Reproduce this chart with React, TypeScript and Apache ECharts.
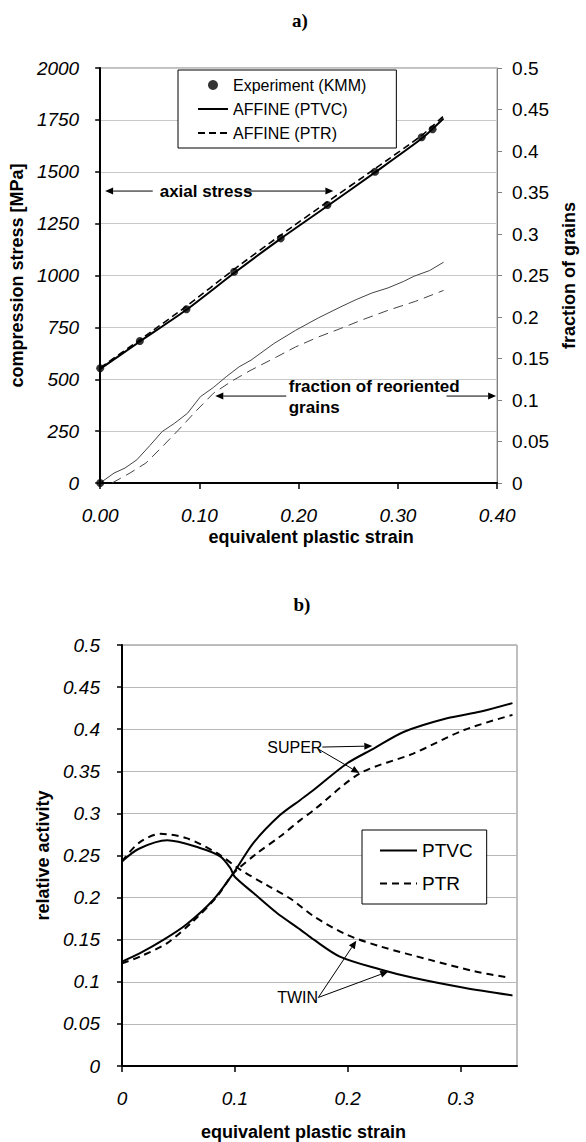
import React, { useEffect, useRef } from "react";
import * as echarts from "echarts";

// ---------- Chart a) data ----------
const expStrain = [0, 0, 0.04, 0.087, 0.135, 0.182, 0.229, 0.277, 0.324, 0.335];
const expStress = [0, 553, 684, 837, 1018, 1179, 1340, 1500, 1666, 1705];

const affStrain = [0, 0.04, 0.087, 0.135, 0.182, 0.229, 0.277, 0.324, 0.346];
const affPTVC = [550, 682, 835, 1012, 1178, 1335, 1497, 1660, 1757];
const affPTR = [555, 690, 852, 1030, 1195, 1355, 1515, 1675, 1768];

const fracStrainPTVC = [0, 0.014, 0.025, 0.037, 0.05, 0.0625, 0.075, 0.088, 0.101, 0.114, 0.127, 0.14, 0.152, 0.175, 0.197, 0.22, 0.242, 0.258, 0.274, 0.29, 0.306, 0.316, 0.332, 0.346];
const fracPTVC = [0, 0.012, 0.018, 0.028, 0.045, 0.062, 0.072, 0.084, 0.104, 0.115, 0.128, 0.14, 0.148, 0.168, 0.184, 0.199, 0.212, 0.221, 0.229, 0.235, 0.243, 0.249, 0.256, 0.266];
const fracStrainPTR = [0.012, 0.03, 0.046, 0.062, 0.079, 0.096, 0.114, 0.133, 0.152, 0.178, 0.197, 0.22, 0.242, 0.265, 0.29, 0.318, 0.346];
const fracPTR = [0, 0.012, 0.024, 0.043, 0.064, 0.086, 0.108, 0.123, 0.136, 0.152, 0.164, 0.176, 0.186, 0.197, 0.208, 0.219, 0.232];

// ---------- Chart b) data ----------
const superStrainPTVC = [0, 0.016, 0.037, 0.057, 0.081, 0.0997, 0.1165, 0.14, 0.158, 0.17, 0.199, 0.223, 0.25, 0.288, 0.318, 0.346];
const superPTVC = [0.124, 0.134, 0.15, 0.168, 0.1975, 0.231, 0.265, 0.298, 0.316, 0.328, 0.359, 0.377, 0.397, 0.413, 0.421, 0.431];
const superStrainPTR = [0, 0.016, 0.04, 0.063, 0.084, 0.099, 0.12, 0.14, 0.158, 0.17, 0.211, 0.258, 0.303, 0.346];
const superPTR = [0.122, 0.13, 0.146, 0.172, 0.201, 0.229, 0.253, 0.2725, 0.292, 0.304, 0.3476, 0.371, 0.399, 0.417];
const twinStrainPTVC = [0, 0.015, 0.04, 0.069, 0.087, 0.096, 0.0997, 0.1165, 0.137, 0.158, 0.17, 0.193, 0.229, 0.258, 0.303, 0.346];
const twinPTVC = [0.243, 0.258, 0.268, 0.259, 0.249, 0.235, 0.225, 0.2054, 0.182, 0.162, 0.15, 0.13, 0.1146, 0.1047, 0.0929, 0.0838];
const twinStrainPTR = [0, 0.015, 0.034, 0.057, 0.084, 0.105, 0.128, 0.15, 0.17, 0.199, 0.229, 0.273, 0.312, 0.344];
const twinPTR = [0.243, 0.265, 0.2757, 0.2706, 0.253, 0.233, 0.215, 0.198, 0.1777, 0.156, 0.142, 0.126, 0.1126, 0.1047];

const xTicksB = [0, 0.1, 0.2, 0.3];

const pairs = (xs: number[], ys: number[]) => xs.map((x, i) => [x, ys[i]]);

const SANS = "Arial, 'Liberation Sans', Helvetica, sans-serif";
const SERIF = "'Times New Roman', 'Liberation Serif', serif";

export default function App() {
  const ref = useRef<HTMLDivElement>(null);
  useEffect(() => {
    document.body.style.margin = "0";
    const chart = echarts.init(ref.current!, null, { renderer: "svg" });
    const italicLabel = { fontFamily: SANS, fontStyle: "italic", fontSize: 19, color: "#000" };
    const nameStyle = { fontFamily: SANS, fontWeight: "bold", fontSize: 18, color: "#000" };
    const hideSym = { opacity: 0 };
    const option: any = {
      animation: false,
      backgroundColor: "#fff",
      title: [
        { text: "a)", left: 295, top: 6, textAlign: "center", textStyle: { fontFamily: SERIF, fontWeight: "bold", fontSize: 19, color: "#000" } },
        { text: "b)", left: 297, top: 590, textAlign: "center", textStyle: { fontFamily: SERIF, fontWeight: "bold", fontSize: 19, color: "#000" } },
      ],
      grid: [
        { left: 95, top: 68, width: 417, height: 415, show: true, borderColor: "#808080", borderWidth: 1 },
        { left: 122, top: 645, width: 395, height: 422, show: true, borderColor: "#808080", borderWidth: 1 },
      ],
      legend: [
        {
          data: [
            { name: "Experiment (KMM)" },
            { name: "AFFINE (PTVC)", itemStyle: hideSym },
            { name: "AFFINE (PTR)", itemStyle: hideSym },
          ],
          orient: "vertical",
          left: 178,
          top: 70,
          itemWidth: 30,
          itemHeight: 10,
          itemGap: 8,
          padding: [7, 30, 7, 19],
          borderColor: "#000",
          borderWidth: 1,
          backgroundColor: "#fff",
          textStyle: { fontFamily: SANS, fontSize: 16, color: "#000" },
        },
        {
          data: [
            { name: "PTVC", itemStyle: hideSym },
            { name: "PTR", itemStyle: hideSym },
          ],
          orient: "vertical",
          left: 362,
          top: 830,
          itemWidth: 37,
          itemHeight: 18,
          itemGap: 14,
          padding: [11, 14, 11, 17],
          borderColor: "#000",
          borderWidth: 1,
          backgroundColor: "#fff",
          textStyle: { fontFamily: SANS, fontSize: 19, color: "#000" },
        },
      ],
      xAxis: [
        {
          type: "value", gridIndex: 0, min: 0, max: 0.4, interval: 0.1,
          name: "equivalent plastic strain", nameLocation: "middle", nameGap: 45,
          nameTextStyle: { ...nameStyle, padding: [0, 0, 0, 25] },
          axisLine: { lineStyle: { color: "#000", width: 2 } },
          axisTick: { show: true, inside: false, length: 6, lineStyle: { color: "#000", width: 1.5 } },
          axisLabel: { ...italicLabel, margin: 23, formatter: (v: number) => v.toFixed(2) },
          splitLine: { show: false },
        },
        {
          type: "value", gridIndex: 1, min: 0, max: 0.35, interval: 0.1,
          name: "equivalent plastic strain", nameLocation: "middle", nameGap: 57,
          nameTextStyle: { ...nameStyle, padding: [0, 32, 0, 0] },
          axisLine: { lineStyle: { color: "#000", width: 2 } },
          axisTick: { show: true, inside: false, length: 6, customValues: xTicksB, lineStyle: { color: "#000", width: 1.5 } },
          axisLabel: { ...italicLabel, margin: 23, customValues: xTicksB },
          splitLine: { show: false },
        },
      ],
      yAxis: [
        {
          type: "value", gridIndex: 0, min: 0, max: 2000, interval: 250, position: "left",
          name: "compression stress [MPa]", nameLocation: "middle", nameGap: 64,
          nameTextStyle: nameStyle,
          axisLine: { show: true, lineStyle: { color: "#000", width: 2 } },
          axisTick: { show: true, inside: false, length: 5, lineStyle: { color: "#000", width: 1.5 } },
          axisLabel: { ...italicLabel, margin: 21, formatter: (v: number) => String(v) },
          splitLine: { show: true, lineStyle: { color: "#c8c8c8", width: 1 } },
        },
        {
          type: "value", gridIndex: 0, min: 0, max: 0.5, interval: 0.05, position: "right",
          name: "fraction of grains", nameLocation: "middle", nameGap: 55,
          nameTextStyle: nameStyle,
          axisLine: { show: true, lineStyle: { color: "#808080", width: 1 } },
          axisTick: { show: true, inside: false, length: 5, lineStyle: { color: "#808080", width: 1 } },
          axisLabel: { fontFamily: SANS, fontSize: 19, color: "#000", margin: 15 },
          splitLine: { show: false },
        },
        {
          type: "value", gridIndex: 1, min: 0, max: 0.5, interval: 0.05, position: "left",
          name: "relative activity", nameLocation: "middle", nameGap: 66,
          nameTextStyle: nameStyle,
          axisLine: { show: true, lineStyle: { color: "#000", width: 2 } },
          axisTick: { show: true, inside: false, length: 5, lineStyle: { color: "#000", width: 1.5 } },
          axisLabel: { ...italicLabel, margin: 22 },
          splitLine: { show: true, lineStyle: { color: "#b8b8b8", width: 1 } },
        },
      ],
      series: [
        {
          name: "Experiment (KMM)", type: "scatter", xAxisIndex: 0, yAxisIndex: 0,
          data: pairs(expStrain, expStress), symbol: "circle", symbolSize: 8,
          itemStyle: { color: "#000" }, z: 5,
        },
        {
          name: "AFFINE (PTVC)", type: "line", xAxisIndex: 0, yAxisIndex: 0,
          data: pairs(affStrain, affPTVC), symbol: "none", smooth: 0.2,
          lineStyle: { color: "#000", width: 2 }, itemStyle: { color: "#000" },
        },
        {
          name: "AFFINE (PTR)", type: "line", xAxisIndex: 0, yAxisIndex: 0,
          data: pairs(affStrain, affPTR), symbol: "none", smooth: 0.2,
          lineStyle: { color: "#000", width: 1.6, type: [7, 4] }, itemStyle: { color: "#000" },
        },
        {
          name: "fraction PTVC", type: "line", xAxisIndex: 0, yAxisIndex: 1,
          data: pairs(fracStrainPTVC, fracPTVC), symbol: "none",
          lineStyle: { color: "#444", width: 1 },
        },
        {
          name: "fraction PTR", type: "line", xAxisIndex: 0, yAxisIndex: 1,
          data: pairs(fracStrainPTR, fracPTR), symbol: "none",
          lineStyle: { color: "#444", width: 1, type: [10, 6] },
        },
        {
          name: "PTVC", type: "line", xAxisIndex: 1, yAxisIndex: 2,
          data: pairs(superStrainPTVC, superPTVC), symbol: "none", smooth: 0.3,
          lineStyle: { color: "#000", width: 2 }, itemStyle: { color: "#000" },
        },
        {
          name: "PTVC", type: "line", xAxisIndex: 1, yAxisIndex: 2,
          data: pairs(twinStrainPTVC, twinPTVC), symbol: "none", smooth: 0.3,
          lineStyle: { color: "#000", width: 2 }, itemStyle: { color: "#000" },
        },
        {
          name: "PTR", type: "line", xAxisIndex: 1, yAxisIndex: 2,
          data: pairs(superStrainPTR, superPTR), symbol: "none", smooth: 0.3,
          lineStyle: { color: "#000", width: 2, type: [7, 5] }, itemStyle: { color: "#000" },
        },
        {
          name: "PTR", type: "line", xAxisIndex: 1, yAxisIndex: 2,
          data: pairs(twinStrainPTR, twinPTR), symbol: "none", smooth: 0.3,
          lineStyle: { color: "#000", width: 2, type: [7, 5] }, itemStyle: { color: "#000" },
        },
      ],
    };
    chart.setOption(option);

    const pa = (x: number, y: number) => chart.convertToPixel({ xAxisIndex: 0, yAxisIndex: 0 }, [x, y]) as number[];
    const pb = (x: number, y: number) => chart.convertToPixel({ xAxisIndex: 1, yAxisIndex: 2 }, [x, y]) as number[];

    const arrow = (p1: number[], p2: number[], hl = 8, hw = 3.5) => {
      const dx = p2[0] - p1[0];
      const dy = p2[1] - p1[1];
      const L = Math.hypot(dx, dy);
      const ux = dx / L;
      const uy = dy / L;
      const bx = p2[0] - ux * hl;
      const by = p2[1] - uy * hl;
      return [
        { type: "line", shape: { x1: p1[0], y1: p1[1], x2: bx, y2: by }, style: { stroke: "#000", lineWidth: 1 } },
        {
          type: "polygon",
          shape: { points: [[p2[0], p2[1]], [bx - uy * hw, by + ux * hw], [bx + uy * hw, by - ux * hw]] },
          style: { fill: "#000" },
        },
      ];
    };
    const text = (p: number[], t: string, bold: boolean, size: number) => ({
      type: "text",
      x: p[0],
      y: p[1],
      style: { text: t, fontFamily: SANS, fontWeight: bold ? "bold" : "normal", fontSize: size, fill: "#000", verticalAlign: "middle", align: "left" },
    });

    const graphic: any[] = [
      // a) annotations
      text(pa(0.06, 1407), "axial stress", true, 17),
      ...arrow(pa(0.053, 1407), pa(0.005, 1407)),
      ...arrow(pa(0.146, 1407), pa(0.235, 1407)),
      text(pa(0.19, 467), "fraction of reoriented", true, 17),
      text(pa(0.19, 366), "grains", true, 17),
      ...arrow(pa(0.1875, 419), pa(0.116, 419)),
      ...arrow(pa(0.349, 419), pa(0.399, 419)),
      // b) annotations
      text(pb(0.1287, 0.3788), "SUPER", false, 16),
      ...arrow(pb(0.1775, 0.3788), pb(0.2218, 0.38)),
      ...arrow(pb(0.174, 0.3764), pb(0.2103, 0.348)),
      text(pb(0.1375, 0.0814), "TWIN", false, 16),
      ...arrow(pb(0.174, 0.0814), pb(0.2076, 0.1489)),
      ...arrow(pb(0.174, 0.0814), pb(0.236, 0.1122)),
    ];
    chart.setOption({ graphic });

    return () => chart.dispose();
  }, []);
  return <div ref={ref} style={{ width: 586, height: 1142 }} />;
}
